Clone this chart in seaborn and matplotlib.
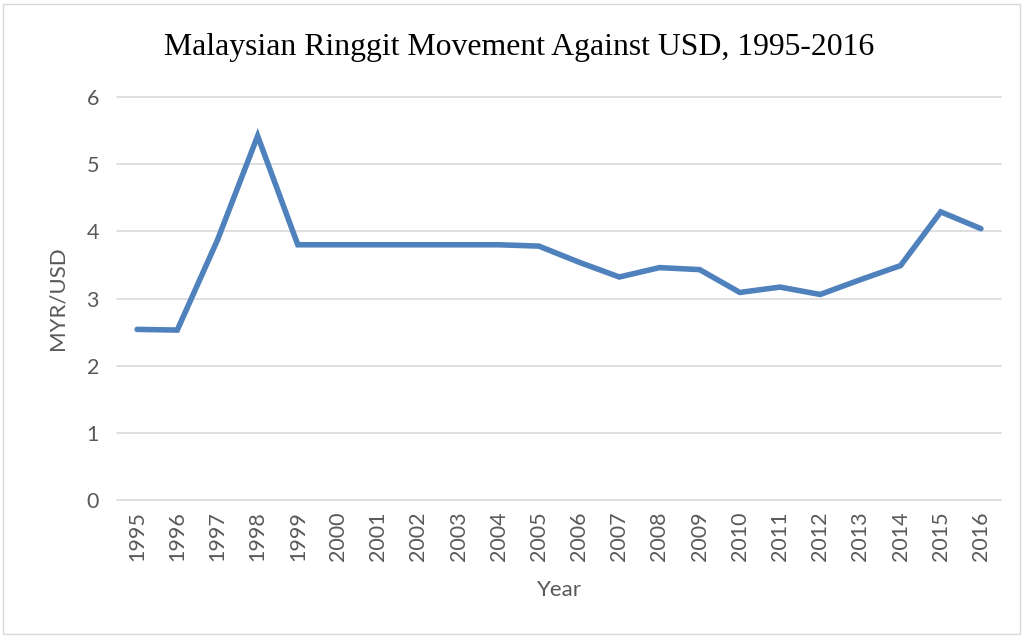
import matplotlib
matplotlib.use("Agg")
import matplotlib.pyplot as plt
import seaborn as sns
import pandas as pd
from matplotlib.patches import Rectangle

years = ["1995", "1996", "1997", "1998", "1999", "2000", "2001", "2002", "2003", "2004", "2005",
         "2006", "2007", "2008", "2009", "2010", "2011", "2012", "2013", "2014", "2015", "2016"]
myr_usd = [2.54, 2.53, 3.87, 5.42, 3.80, 3.80, 3.80, 3.80, 3.80, 3.80, 3.78,
           3.54, 3.32, 3.46, 3.43, 3.09, 3.17, 3.06, 3.28, 3.49, 4.29, 4.04]
y_ticks = [0, 1, 2, 3, 4, 5, 6]

df = pd.DataFrame({"Year": years, "MYR/USD": myr_usd})

sns.set_theme(style="white")
plt.rcParams["font.family"] = ["Lato", "DejaVu Sans"]

fig = plt.figure(figsize=(10.24, 6.37), dpi=100)
ax = fig.add_axes([117 / 1024, 1 - 500 / 637, (1001 - 117) / 1024, (500 - 97) / 637])

ax.set_ylim(0, 6)
ax.set_yticks(y_ticks)
ax.set_yticklabels([str(t) for t in y_ticks])
ax.yaxis.grid(False)
ax.xaxis.grid(False)
for t in y_ticks:
    ax.axhline(t, color="#D9D9D9", linewidth=1.2, clip_on=False, zorder=0)

sns.lineplot(data=df, x="Year", y="MYR/USD", sort=False, ax=ax,
             color="#4F81BD", linewidth=4.0, solid_capstyle="round", solid_joinstyle="miter", zorder=3)

ax.set_xlim(-0.5, len(years) - 0.5)
ax.set_ylim(0, 6)
for s in ax.spines.values():
    s.set_visible(False)
ax.tick_params(axis="both", length=0, labelcolor="#595959", labelsize=15.5)
ax.tick_params(axis="y", pad=13)
ax.tick_params(axis="x", pad=8)
plt.setp(ax.get_xticklabels(), rotation=90)

ax.set_xlabel("Year", fontsize=16, color="#595959", labelpad=14)
ax.set_ylabel("MYR/USD", fontsize=16, color="#595959", labelpad=14)

fig.text(519 / 1024, 1 - 47 / 637, "Malaysian Ringgit Movement Against USD, 1995-2016",
         family="Liberation Serif", fontsize=22.9, color="black", ha="center", va="center")

fig.patches.append(Rectangle((3 / 1024, 3 / 637), 1017 / 1024, 630 / 637, transform=fig.transFigure,
                             fill=False, edgecolor="#D9D9D9", linewidth=1.0))

fig.savefig("out.png", dpi=100)
